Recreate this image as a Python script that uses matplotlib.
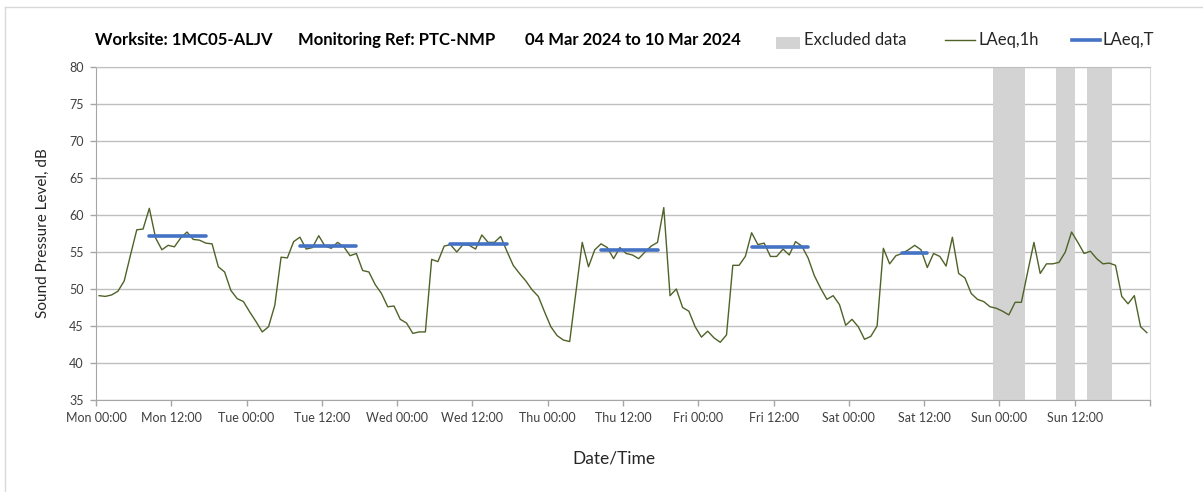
import matplotlib
matplotlib.use("Agg")
import matplotlib.pyplot as plt
import numpy as np
from matplotlib.lines import Line2D
from matplotlib.patches import Rectangle

plt.rcParams["font.family"] = ["Lato", "DejaVu Sans"]

DAYS = ["Mon", "Tue", "Wed", "Thu", "Fri", "Sat", "Sun"]
TICK_LABELS = [f"{d} {t}" for d in DAYS for t in ("00:00", "12:00")] + [""]

# hourly LAeq,1h, Mon 00:00 .. Sun 23:00 (dB)
LAEQ_1H = [
    49.1, 49.0, 49.2, 49.7, 51.1, 54.6, 58.0, 58.1, 60.9, 56.9,
    55.3, 55.9, 55.7, 56.9, 57.7, 56.7, 56.6, 56.2, 56.1, 53.0,
    52.3, 49.8, 48.7, 48.3, 46.9, 45.6, 44.2, 44.9, 47.8, 54.3,
    54.2, 56.4, 57.0, 55.4, 55.6, 57.2, 55.8, 55.5, 56.3, 55.7,
    54.5, 54.8, 52.5, 52.3, 50.6, 49.4, 47.6, 47.7, 45.9, 45.4,
    44.0, 44.2, 44.2, 54.0, 53.7, 55.8, 56.0, 55.0, 56.0, 55.9,
    55.4, 57.3, 56.3, 56.3, 57.1, 55.1, 53.2, 52.1, 51.1, 49.9,
    49.0, 46.9, 44.9, 43.7, 43.1, 42.9, 49.6, 56.3, 53.0, 55.3,
    56.1, 55.6, 54.1, 55.6, 54.8, 54.6, 54.1, 55.0, 55.8, 56.3,
    61.0, 49.1, 50.0, 47.5, 47.0, 44.9, 43.5, 44.3, 43.4, 42.8,
    43.8, 53.2, 53.2, 54.4, 57.6, 56.0, 56.2, 54.4, 54.4, 55.4,
    54.6, 56.4, 55.8, 54.2, 51.8, 50.1, 48.6, 49.1, 47.9, 45.1,
    45.9, 44.9, 43.2, 43.6, 45.0, 55.5, 53.4, 54.5, 54.8, 55.3,
    55.9, 55.3, 52.9, 54.8, 54.4, 53.1, 57.0, 52.1, 51.5, 49.4,
    48.6, 48.3, 47.6, 47.4, 47.0, 46.5, 48.2, 48.2, 52.3, 56.3,
    52.1, 53.4, 53.4, 53.6, 55.0, 57.7, 56.3, 54.8, 55.1, 54.1,
    53.4, 53.5, 53.2, 49.0, 48.0, 49.1, 44.9, 44.1,
]

# excluded periods, hours from Mon 00:00
EXCL_START = [143, 153, 158]
EXCL_END = [148, 156, 162]

# daytime LAeq,T and the first/last hour it covers
LAEQ_T = [57.2, 55.8, 56.1, 55.25, 55.7, 54.85]
T_FIRST = [8, 32, 56, 80, 104, 128]
T_LAST = [17, 41, 65, 89, 113, 132]

GREEN = "#4f6228"
BLUE = "#4472c4"
EXCL = "#d3d3d3"
W, H = 1203, 492


def px(x, y):
    """pixel (from top-left) -> figure fraction"""
    return x / W, 1 - y / H


def main():
    fig = plt.figure(figsize=(W / 100, H / 100), dpi=100)
    ax = fig.add_axes([96 / W, 1 - 400 / H, (1150 - 96) / W, (400 - 67) / H])

    # outer chart frame (Excel-style chart area border)
    fig.add_artist(Line2D([5 / W, 1], [1 - 7 / H] * 2, color="#d9d9d9", lw=1))
    fig.add_artist(Line2D([5 / W] * 2, [0, 1 - 7 / H], color="#d9d9d9", lw=1))

    for s, e in zip(EXCL_START, EXCL_END):
        ax.axvspan(s, e, color=EXCL, lw=0, zorder=1)

    hours = np.arange(len(LAEQ_1H)) + 0.5
    ax.plot(hours, LAEQ_1H, color=GREEN, lw=1.0, zorder=3)

    for v, a, b in zip(LAEQ_T, T_FIRST, T_LAST):
        ax.plot([a + 0.5, b + 0.5], [v, v], color=BLUE, lw=2.6,
                solid_capstyle="round", zorder=4)

    ax.set_xlim(0, 168)
    ax.set_ylim(35, 80)
    ax.set_yticks(range(35, 81, 5))
    ax.set_xticks(range(0, 169, 12))
    ax.set_xticklabels(TICK_LABELS)
    ax.set_xticks(range(0, 169, 24), minor=True)

    ax.grid(axis="y", color="#bfbfbf", lw=1, zorder=0)
    ax.grid(axis="x", which="minor", color="#d9d9d9", lw=1, zorder=0)
    ax.set_axisbelow(True)

    ax.tick_params(axis="both", which="major", length=4, width=1, color="#a6a6a6",
                   labelsize=9, labelcolor="#404040", pad=5)
    ax.tick_params(axis="x", which="minor", length=0)

    for side in ("left", "bottom"):
        ax.spines[side].set_color("#a6a6a6")
    ax.spines["top"].set_color("#bfbfbf")
    ax.spines["right"].set_color("#d9d9d9")

    ax.set_ylabel("Sound Pressure Level, dB", fontsize=11, color="#262626", labelpad=14)
    fig.text(*px(614, 458), "Date/Time", fontsize=12.5, color="#262626",
             ha="center", va="center")

    # header line: title pieces and a hand-placed legend
    ty = 40
    for x, s in [(95, "Worksite: 1MC05-ALJV"), (298, "Monitoring Ref: PTC-NMP"),
                 (525, "04 Mar 2024 to 10 Mar 2024")]:
        fig.text(*px(x, ty), s, fontsize=12, weight="bold", va="center")

    fig.add_artist(Rectangle(px(776, 49), 24 / W, 12 / H, color=EXCL, lw=0))
    fig.text(*px(804, ty), "Excluded data", fontsize=12, color="#262626", va="center")
    fig.add_artist(Line2D([945 / W, 975 / W], [1 - ty / H] * 2, color=GREEN, lw=1.0))
    fig.text(*px(978, ty), "LAeq,1h", fontsize=12, color="#262626", va="center")
    fig.add_artist(Line2D([1072 / W, 1100 / W], [1 - ty / H] * 2, color=BLUE, lw=2.6))
    fig.text(*px(1102, ty), "LAeq,T", fontsize=12, color="#262626", va="center")

    fig.savefig("out.png", dpi=100)
    plt.close(fig)


if __name__ == "__main__":
    main()
